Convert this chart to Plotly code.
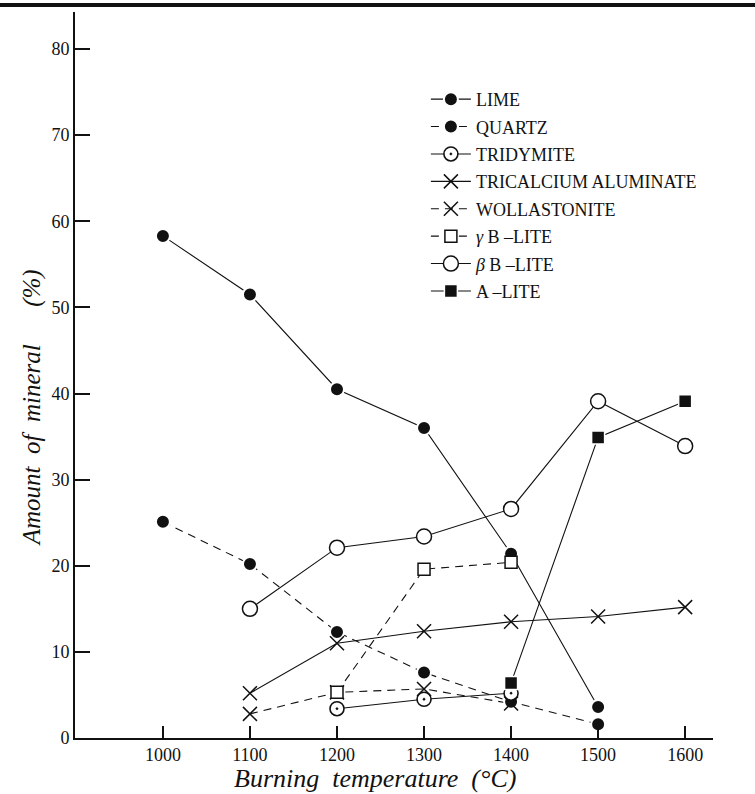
import plotly.graph_objects as go

# ---- data ----
lime_t = [1000, 1100, 1200, 1300, 1400, 1500]
lime_v = [58.3, 51.5, 40.5, 36.0, 21.4, 3.6]

quartz_t = [1000, 1100, 1200, 1300, 1400, 1500]
quartz_v = [25.1, 20.2, 12.3, 7.6, 4.2, 1.6]

tridymite_t = [1200, 1300, 1400]
tridymite_v = [3.4, 4.5, 5.2]

tca_t = [1100, 1200, 1300, 1400, 1500, 1600]
tca_v = [5.2, 11.0, 12.4, 13.5, 14.1, 15.2]

woll_t = [1100, 1200, 1300, 1400]
woll_v = [2.8, 5.3, 5.7, 4.0]

gamma_t = [1200, 1300, 1400]
gamma_v = [5.3, 19.6, 20.4]

beta_t = [1100, 1200, 1300, 1400, 1500, 1600]
beta_v = [15.0, 22.1, 23.4, 26.6, 39.1, 33.9]

alite_t = [1400, 1500, 1600]
alite_v = [6.4, 34.9, 39.1]

x_ticks = [1000, 1100, 1200, 1300, 1400, 1500, 1600]
y_ticks = [0, 10, 20, 30, 40, 50, 60, 70, 80]

FONT = "Liberation Serif"
BLACK = "#111111"

series = [
    dict(name="LIME", t=lime_t, v=lime_v, dash="solid",
         marker=dict(symbol="circle", size=14, color=BLACK, line=dict(color="white", width=2))),
    dict(name="QUARTZ", t=quartz_t, v=quartz_v, dash="8px,6px",
         marker=dict(symbol="circle", size=14, color=BLACK, line=dict(color="white", width=2))),
    dict(name="TRIDYMITE", t=tridymite_t, v=tridymite_v, dash="solid",
         marker=dict(symbol="circle-dot", size=14, color="white", line=dict(color=BLACK, width=1.6))),
    dict(name="TRICALCIUM ALUMINATE", t=tca_t, v=tca_v, dash="solid",
         marker=dict(symbol="x-thin-open", size=14, color=BLACK, line=dict(color=BLACK, width=1.5))),
    dict(name="WOLLASTONITE", t=woll_t, v=woll_v, dash="8px,6px",
         marker=dict(symbol="x-thin-open", size=14, color=BLACK, line=dict(color=BLACK, width=1.5))),
    dict(name="<i>γ</i> B –LITE", t=gamma_t, v=gamma_v, dash="8px,6px",
         marker=dict(symbol="square", size=12, color="white", line=dict(color=BLACK, width=1.5))),
    dict(name="<i>β</i> B –LITE", t=beta_t, v=beta_v, dash="solid",
         marker=dict(symbol="circle", size=15, color="white", line=dict(color=BLACK, width=1.5))),
    dict(name="A –LITE", t=alite_t, v=alite_v, dash="solid",
         marker=dict(symbol="square", size=13, color=BLACK, line=dict(color="white", width=1.5))),
]

fig = go.Figure()

# lines first
for i, s in enumerate(series):
    fig.add_trace(go.Scatter(x=s["t"], y=s["v"], mode="lines",
                             line=dict(color=BLACK, width=1.1, dash=s["dash"]),
                             showlegend=False, hoverinfo="skip", legendgroup=f"g{i}"))
# markers on top
for i, s in enumerate(series):
    fig.add_trace(go.Scatter(x=s["t"], y=s["v"], mode="markers", marker=s["marker"],
                             showlegend=False, name=s["name"], legendgroup=f"g{i}"))
# legend keys
for i, s in enumerate(series):
    fig.add_trace(go.Scatter(x=[None], y=[None], mode="lines+markers", name=s["name"],
                             line=dict(color=BLACK, width=1.1, dash=s["dash"]),
                             marker=s["marker"], legendgroup=f"g{i}", showlegend=True))

fig.update_layout(
    width=755, height=794,
    margin=dict(l=75, r=42, t=12, b=56),
    paper_bgcolor="white", plot_bgcolor="white",
    font=dict(family=FONT, size=18, color=BLACK),
    legend=dict(x=0.55, y=0.905, xanchor="left", yanchor="top",
                traceorder="grouped", tracegroupgap=1,
                font=dict(family=FONT, size=18, color=BLACK),
                bgcolor="rgba(0,0,0,0)", itemwidth=40),
    showlegend=True,
)

fig.update_xaxes(range=[899, 1632], tickvals=x_ticks, ticks="inside", ticklen=12,
                 tickwidth=1.5, tickcolor=BLACK, showline=True, linecolor=BLACK,
                 linewidth=1.6, showgrid=False, zeroline=False,
                 tickfont=dict(family=FONT, size=18, color=BLACK))
fig.update_yaxes(range=[0, 84.3], tickvals=y_ticks, ticks="inside", ticklen=15,
                 tickwidth=1.5, tickcolor=BLACK, showline=True, linecolor=BLACK,
                 linewidth=1.6, showgrid=False, zeroline=False,
                 tickfont=dict(family=FONT, size=18, color=BLACK))

# axis titles
fig.add_annotation(text="Burning  temperature  (°C)", xref="paper", yref="paper",
                   x=0.47, y=-0.056, xanchor="center", yanchor="middle", showarrow=False,
                   font=dict(family=FONT, size=26, color=BLACK, style="italic"))
fig.add_annotation(text="Amount  of  mineral      (%)", xref="paper", yref="paper",
                   x=-0.068, y=0.455, xanchor="center", yanchor="middle", showarrow=False,
                   textangle=-90,
                   font=dict(family=FONT, size=25, color=BLACK, style="italic"))

# page edge rule at the top of the scan
fig.add_shape(type="line", xref="paper", yref="paper", x0=-0.118, x1=1.066,
              y0=1.0095, y1=1.0095, line=dict(color=BLACK, width=4))

fig.write_html("out.html", config={"displayModeBar": False},
               post_script="document.body.style.margin='0';")
